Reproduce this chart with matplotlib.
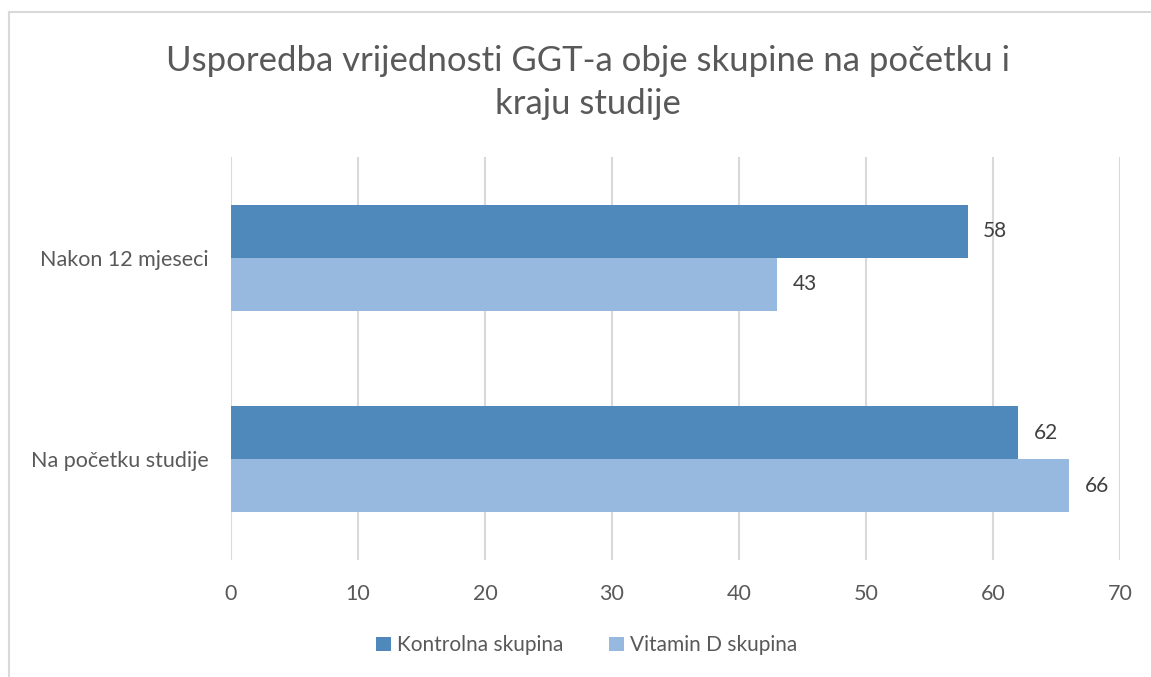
import matplotlib
matplotlib.use('Agg')
import matplotlib.pyplot as plt
from matplotlib.lines import Line2D
from matplotlib.patches import Patch
import numpy as np

plt.rcParams['font.family'] = ['Lato', 'DejaVu Sans']

categories = ['Na početku studije', 'Nakon 12 mjeseci']
kontrolna = [62, 58]
vitamin_d = [66, 43]
series_names = ['Kontrolna skupina', 'Vitamin D skupina']
x_ticks = [0, 10, 20, 30, 40, 50, 60, 70]
title = 'Usporedba vrijednosti GGT-a obje skupine na početku i\nkraju studije'

dark = '#4F89BC'
light = '#97B9E0'
text_col = '#595959'
grid_col = '#D9D9D9'

fig = plt.figure(figsize=(11.51, 6.77), dpi=100)
ax = fig.add_axes([0.2007, 0.1728, 0.7724, 0.5953])

y = np.arange(len(categories))
h = 0.262
ax.barh(y + h / 2, kontrolna, height=h, color=dark, zorder=3)
ax.barh(y - h / 2, vitamin_d, height=h, color=light, zorder=3)

for i in range(len(categories)):
    ax.text(kontrolna[i] + 1.2, y[i] + h / 2, str(kontrolna[i]), va='center', ha='left',
            fontsize=15, color='#404040')
    ax.text(vitamin_d[i] + 1.2, y[i] - h / 2, str(vitamin_d[i]), va='center', ha='left',
            fontsize=15, color='#404040')

ax.set_xlim(0, 70)
ax.set_ylim(-0.5, 1.5)
ax.set_xticks(x_ticks)
ax.set_xticklabels([str(t) for t in x_ticks])
ax.set_yticks(y)
ax.set_yticklabels(categories)
ax.tick_params(axis='both', length=0, labelsize=15.5, labelcolor=text_col)
ax.tick_params(axis='x', pad=17)
ax.tick_params(axis='y', pad=16)
ax.xaxis.grid(True, color=grid_col, linewidth=1.5, zorder=0)
for s in ax.spines.values():
    s.set_visible(False)

fig.text(0.511, 0.878, title, ha='center', va='center', fontsize=25, color=text_col,
         linespacing=1.45)

handles = [Patch(facecolor=dark, label=series_names[0]),
           Patch(facecolor=light, label=series_names[1])]
fig.legend(handles=handles, loc='center', bbox_to_anchor=(0.51, 0.047), ncol=2, frameon=False,
           fontsize=15, labelcolor=text_col, handlelength=0.7, handleheight=0.7,
           handletextpad=0.3, columnspacing=2.2)

# chart border (top and left visible)
fig.add_artist(Line2D([0.008, 0.008], [0.0, 0.982], color='#D9D9D9', linewidth=1.5))
fig.add_artist(Line2D([0.008, 1.0], [0.982, 0.982], color='#D9D9D9', linewidth=1.5))

fig.savefig('out.png', dpi=100)
